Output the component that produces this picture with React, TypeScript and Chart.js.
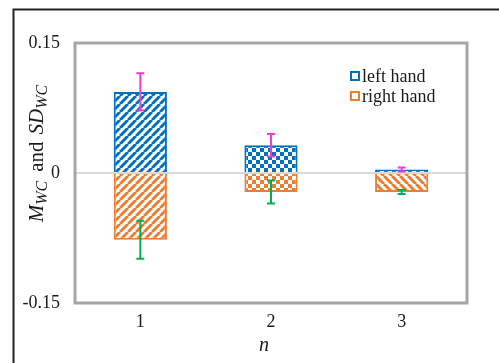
import { useEffect, useRef } from "react";
import { Chart, registerables } from "chart.js";

Chart.register(...registerables);

// n = 1, 2, 3
const categories = ["1", "2", "3"];
const seriesNames = ["left hand", "right hand"];
// mean values M_WC
const leftHand = [0.0935, 0.032, 0.004];
const rightHand = [-0.077, -0.022, -0.022];
// standard deviations SD_WC (error bars)
const leftHandSD = [0.0215, 0.013, 0.0023];
const rightHandSD = [0.022, 0.0133, 0.0023];
const yTicks = [-0.15, 0, 0.15];

const BLUE = "#0070C0";
const ORANGE = "#ED7D31";
const MAGENTA = "#F03CD2";
const GREEN = "#00B050";
const SERIF = "'Liberation Serif', 'Times New Roman', serif";
const TEXT = "#1a1a1a";

type Fill = "fwd" | "back" | "check";

function makePattern(ctx: CanvasRenderingContext2D, color: string, kind: Fill) {
  const T = 8;
  const c = document.createElement("canvas");
  c.width = T;
  c.height = T;
  const g = c.getContext("2d")!;
  g.fillStyle = "#ffffff";
  g.fillRect(0, 0, T, T);
  if (kind === "check") {
    g.fillStyle = color;
    g.fillRect(0, 0, T / 2, T / 2);
    g.fillRect(T / 2, T / 2, T / 2, T / 2);
  } else {
    g.strokeStyle = color;
    g.lineWidth = 3;
    for (const off of [-T, 0, T]) {
      g.beginPath();
      if (kind === "fwd") {
        g.moveTo(off, T);
        g.lineTo(off + T, 0);
      } else {
        g.moveTo(off, 0);
        g.lineTo(off + T, T);
      }
      g.stroke();
    }
  }
  return ctx.createPattern(c, "repeat")!;
}

const decorations = {
  id: "decorations",
  beforeDraw(chart: any) {
    const ctx = chart.ctx as CanvasRenderingContext2D;
    ctx.save();
    ctx.fillStyle = "#ffffff";
    ctx.fillRect(0, 0, chart.width, chart.height);
    // outer frame (left and top edges)
    ctx.strokeStyle = "#222222";
    ctx.lineWidth = 2;
    ctx.beginPath();
    ctx.moveTo(13.5, chart.height);
    ctx.lineTo(13.5, 9.5);
    ctx.lineTo(chart.width, 9.5);
    ctx.stroke();
    ctx.restore();
  },
  afterDatasetsDraw(chart: any) {
    const ctx = chart.ctx as CanvasRenderingContext2D;
    const { left, right, top, bottom } = chart.chartArea;
    const y = chart.scales.y;
    ctx.save();

    // zero line
    const y0 = y.getPixelForValue(0);
    ctx.strokeStyle = "#d9d9d9";
    ctx.lineWidth = 2;
    ctx.beginPath();
    ctx.moveTo(left, y0);
    ctx.lineTo(right, y0);
    ctx.stroke();

    // plot area border
    ctx.strokeStyle = "#a6a6a6";
    ctx.lineWidth = 3;
    ctx.strokeRect(left, top, right - left, bottom - top);

    // error bars
    const sds = [leftHandSD, rightHandSD];
    const vals = [leftHand, rightHand];
    const colors = [MAGENTA, GREEN];
    for (let d = 0; d < 2; d++) {
      const meta = chart.getDatasetMeta(d);
      ctx.strokeStyle = colors[d];
      ctx.lineWidth = 2;
      meta.data.forEach((bar: any, j: number) => {
        const x = bar.x;
        const yHi = y.getPixelForValue(vals[d][j] + sds[d][j]);
        const yLo = y.getPixelForValue(vals[d][j] - sds[d][j]);
        ctx.beginPath();
        ctx.moveTo(x, yHi);
        ctx.lineTo(x, yLo);
        ctx.moveTo(x - 4, yHi);
        ctx.lineTo(x + 4, yHi);
        ctx.moveTo(x - 4, yLo);
        ctx.lineTo(x + 4, yLo);
        ctx.stroke();
      });
    }

    // legend
    const legendColors = [BLUE, ORANGE];
    ctx.font = `18px ${SERIF}`;
    ctx.textBaseline = "middle";
    ctx.textAlign = "left";
    seriesNames.forEach((name, i) => {
      const cy = 76 + i * 20;
      ctx.fillStyle = "#ffffff";
      ctx.fillRect(351, cy - 4, 8, 8);
      ctx.strokeStyle = legendColors[i];
      ctx.lineWidth = 2;
      ctx.strokeRect(351, cy - 4, 8, 8);
      ctx.fillStyle = TEXT;
      ctx.fillText(name, 362, cy + 1);
    });

    // x axis title
    ctx.font = `italic 20px ${SERIF}`;
    ctx.textAlign = "center";
    ctx.textBaseline = "alphabetic";
    ctx.fillStyle = TEXT;
    ctx.fillText("n", 264, 351);

    // y axis title: M_WC and SD_WC
    const mainFont = `italic 21px ${SERIF}`;
    const subFont = `italic 16px ${SERIF}`;
    const plainFont = `21px ${SERIF}`;
    const parts: [string, string, number, number][] = [
      ["M", mainFont, 0, 0],
      ["WC", subFont, 4, 0],
      ["and", plainFont, 0, 9],
      ["SD", mainFont, 0, 7],
      ["WC", subFont, 4, 0],
    ];
    let total = 0;
    for (const [t, f, , gap] of parts) {
      ctx.font = f;
      total += gap + ctx.measureText(t).width;
    }
    ctx.translate(43, 153.5);
    ctx.rotate(-Math.PI / 2);
    ctx.textAlign = "left";
    let cx = -total / 2;
    for (const [t, f, dy, gap] of parts) {
      ctx.font = f;
      cx += gap;
      ctx.fillText(t, cx, dy);
      cx += ctx.measureText(t).width;
    }
    ctx.restore();
  },
};

export default function App() {
  const ref = useRef<HTMLCanvasElement>(null);

  useEffect(() => {
    const canvas = ref.current!;
    const ctx = canvas.getContext("2d")!;
    const leftFills: Fill[] = ["fwd", "check", "check"];
    const rightFills: Fill[] = ["fwd", "check", "back"];

    const chart = new Chart(canvas, {
      type: "bar",
      data: {
        labels: categories,
        datasets: [
          {
            label: seriesNames[0],
            data: leftHand,
            backgroundColor: leftFills.map((k) => makePattern(ctx, BLUE, k)),
            borderColor: BLUE,
            borderWidth: 2,
            categoryPercentage: 1,
            barPercentage: 0.407,
          },
          {
            label: seriesNames[1],
            data: rightHand,
            backgroundColor: rightFills.map((k) => makePattern(ctx, ORANGE, k)),
            borderColor: ORANGE,
            borderWidth: 2,
            categoryPercentage: 1,
            barPercentage: 0.407,
          },
        ],
      },
      options: {
        responsive: false,
        animation: false,
        devicePixelRatio: 1,
        layout: { padding: { top: 43, right: 32, left: 0, bottom: 0 } },
        plugins: { legend: { display: false }, tooltip: { enabled: false } },
        scales: {
          x: {
            stacked: true,
            grid: { display: false, drawTicks: false },
            border: { display: false },
            ticks: {
              color: TEXT,
              font: { family: SERIF, size: 18 },
              padding: 8,
            },
            afterFit: (s: any) => {
              s.height = 60;
            },
          },
          y: {
            stacked: true,
            min: -0.15,
            max: 0.15,
            grid: { display: false, drawTicks: false },
            border: { display: false },
            afterBuildTicks: (s: any) => {
              s.ticks = yTicks.map((v) => ({ value: v }));
            },
            ticks: {
              color: TEXT,
              font: { family: SERIF, size: 18 },
              padding: 15,
              callback: (v: any) => (Number(v) === 0 ? "0" : String(v)),
            },
            afterFit: (s: any) => {
              s.width = 75;
            },
          },
        },
      },
      plugins: [decorations],
    });
    return () => chart.destroy();
  }, []);

  return (
    <div style={{ position: "absolute", left: 0, top: 0, width: 499, height: 363, background: "#fff" }}>
      <canvas ref={ref} width={499} height={363} style={{ display: "block" }} />
    </div>
  );
}
